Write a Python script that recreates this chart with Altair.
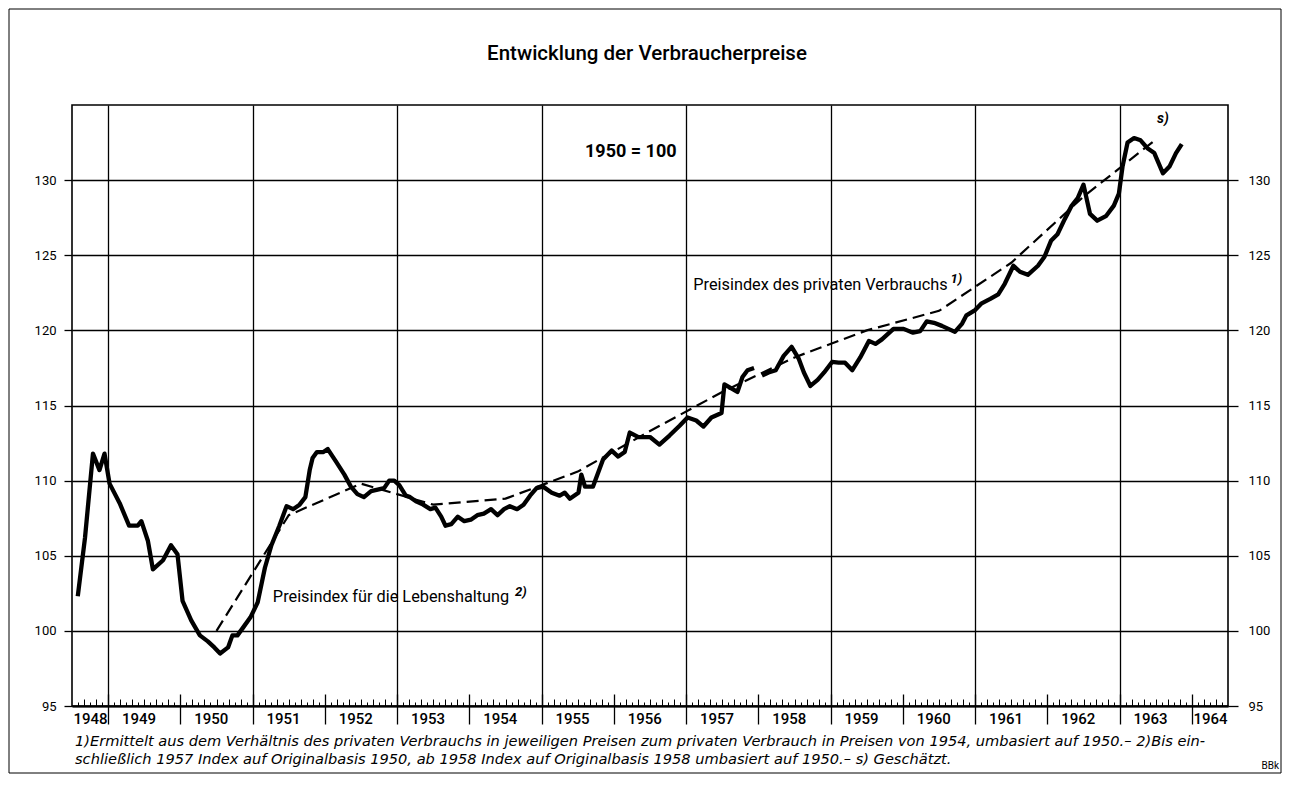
import altair as alt
import pandas as pd

# ---------------- data ----------------
# Preisindex für die Lebenshaltung (monthly, solid) -- segment 1 (to 1957), segment 2 (from 1958)
seg1_t = [1948.58, 1948.68, 1948.79, 1948.88, 1948.95, 1949.02, 1949.16, 1949.29, 1949.41, 1949.46,
          1949.55, 1949.62, 1949.76, 1949.87, 1949.96, 1950.03, 1950.15, 1950.27, 1950.38, 1950.47,
          1950.55, 1950.66, 1950.72, 1950.79, 1950.88, 1950.97, 1951.07, 1951.17, 1951.26, 1951.37,
          1951.47, 1951.56, 1951.65, 1951.73, 1951.79, 1951.83, 1951.89, 1951.98, 1952.04, 1952.15,
          1952.27, 1952.36, 1952.45, 1952.54, 1952.64, 1952.73, 1952.82, 1952.89, 1952.96, 1953.03,
          1953.12, 1953.18, 1953.27, 1953.36, 1953.46, 1953.53, 1953.61, 1953.67, 1953.75, 1953.84,
          1953.93, 1954.02, 1954.11, 1954.20, 1954.30, 1954.39, 1954.48, 1954.56, 1954.66, 1954.75,
          1954.84, 1954.93, 1955.02, 1955.14, 1955.25, 1955.32, 1955.39, 1955.51, 1955.55, 1955.60,
          1955.71, 1955.85, 1955.97, 1956.06, 1956.15, 1956.22, 1956.34, 1956.50, 1956.63, 1956.77,
          1956.91, 1957.02, 1957.14, 1957.24, 1957.35, 1957.49, 1957.53, 1957.62, 1957.71, 1957.78,
          1957.85, 1957.94]
seg1_v = [102.3, 106.2, 111.8, 110.7, 111.8, 109.8, 108.5, 107.0, 107.0, 107.3,
          106.0, 104.1, 104.7, 105.7, 105.1, 102.0, 100.7, 99.7, 99.3, 98.9,
          98.5, 98.9, 99.7, 99.7, 100.3, 100.9, 101.9, 104.2, 105.7, 107.0,
          108.3, 108.1, 108.4, 108.9, 110.7, 111.5, 111.9, 111.9, 112.1, 111.3,
          110.4, 109.6, 109.1, 108.9, 109.3, 109.4, 109.5, 110.0, 110.0, 109.7,
          109.0, 108.9, 108.6, 108.4, 108.1, 108.2, 107.6, 107.0, 107.1, 107.6,
          107.3, 107.4, 107.7, 107.8, 108.1, 107.7, 108.1, 108.3, 108.1, 108.4,
          109.0, 109.5, 109.6, 109.2, 109.0, 109.2, 108.8, 109.2, 110.4, 109.6,
          109.6, 111.4, 112.0, 111.6, 111.9, 113.2, 112.9, 112.9, 112.4, 113.0,
          113.65, 114.2, 114.0, 113.6, 114.2, 114.5, 116.4, 116.15, 115.9, 116.9,
          117.35, 117.5]
seg2_t = [1958.05, 1958.14, 1958.24, 1958.35, 1958.46, 1958.56, 1958.63, 1958.72, 1958.82, 1958.91,
          1959.02, 1959.11, 1959.20, 1959.30, 1959.41, 1959.53, 1959.62, 1959.71, 1959.87, 1960.01,
          1960.14, 1960.24, 1960.33, 1960.43, 1960.54, 1960.63, 1960.72, 1960.82, 1960.88, 1961.00,
          1961.09, 1961.21, 1961.32, 1961.41, 1961.53, 1961.62, 1961.73, 1961.87, 1961.96, 1962.05,
          1962.14, 1962.24, 1962.33, 1962.42, 1962.50, 1962.59, 1962.69, 1962.81, 1962.92, 1962.99,
          1963.04, 1963.11, 1963.20, 1963.29, 1963.39, 1963.48, 1963.60, 1963.69, 1963.78, 1963.86]
seg2_v = [117.0, 117.2, 117.35, 118.3, 118.9, 118.1, 117.2, 116.3, 116.7, 117.2,
          117.9, 117.85, 117.85, 117.35, 118.2, 119.3, 119.1, 119.4, 120.1, 120.1,
          119.85, 119.95, 120.6, 120.5, 120.3, 120.1, 119.9, 120.45, 121.0, 121.35,
          121.8, 122.1, 122.4, 123.1, 124.3, 123.9, 123.7, 124.3, 124.9, 125.96,
          126.4, 127.4, 128.25, 128.8, 129.7, 127.75, 127.3, 127.6, 128.3, 129.1,
          130.9, 132.5, 132.8, 132.65, 132.1, 131.8, 130.45, 130.9, 131.8, 132.4]

# Preisindex des privaten Verbrauchs (annual, dashed)
dash_t = [1950.5, 1951.5, 1952.5, 1953.5, 1954.5, 1955.5, 1956.5,
          1957.5, 1958.5, 1959.5, 1960.5, 1961.5, 1962.5, 1963.5]
dash_v = [100.0, 107.7, 109.8, 108.4, 108.8, 110.6, 113.3,
          115.9, 118.2, 120.0, 121.3, 124.5, 128.9, 132.7]

y_ticks = [95, 100, 105, 110, 115, 120, 125, 130]
grid_years = [1949, 1951, 1953, 1955, 1957, 1959, 1961, 1963]
sep_years = list(range(1949, 1965))
year_labels = ["1948", "1949", "1950", "1951", "1952", "1953", "1954", "1955", "1956",
               "1957", "1958", "1959", "1960", "1961", "1962", "1963", "1964"]
year_label_pos = [1948.75] + [int(y) + 0.42 for y in year_labels[1:-1]] + [1964.25]

title_text = "Entwicklung der Verbraucherpreise"
base_text = "1950 = 100"
label_cpi = "Preisindex für die Lebenshaltung"
label_pcp = "Preisindex des privaten Verbrauchs"
foot1 = ("1)Ermittelt aus dem Verhältnis des privaten Verbrauchs in jeweiligen Preisen zum privaten "
         "Verbrauch in Preisen von 1954, umbasiert auf 1950.– 2)Bis ein-")
foot2 = ("schließlich 1957 Index auf Originalbasis 1950, ab 1958 Index auf Originalbasis 1958 "
         "umbasiert auf 1950.– s) Geschätzt.")

# ---------------- chart ----------------
W, H = 1156, 601
FONT = "Roboto"
xs = alt.Scale(domain=[1948.5, 1964.5], nice=False, zero=False)
ys = alt.Scale(domain=[95, 135], nice=False, zero=False)

sdf = pd.DataFrame({
    "t": seg1_t + seg2_t,
    "v": seg1_v + seg2_v,
    "seg": ["a"] * len(seg1_t) + ["b"] * len(seg2_t),
})
ddf = pd.DataFrame({"t": dash_t, "v": dash_v})

month_pos = [1948.5 + k / 12 for k in range(1, 192)]
month_tall = [m for k, m in enumerate(month_pos) if k % 2 == 1]
month_short = [m for k, m in enumerate(month_pos) if k % 2 == 0]

def noaxis_y():
    return alt.Y("v:Q", scale=ys, axis=None)

# solid line + year labels + left axis with horizontal grid
solid = alt.Chart(sdf).mark_line(color="black", strokeWidth=4.3, strokeJoin="round").encode(
    x=alt.X("t:Q", scale=xs, axis=alt.Axis(
        orient="bottom", values=year_label_pos, labelExpr="'' + floor(datum.value)",
        ticks=False, domain=True, domainColor="black", domainWidth=2, grid=False,
        labelFont=FONT, labelFontSize=15, labelFontWeight=500, labelColor="black",
        labelPadding=5, labelFlush=False, labelOverlap=False, title=None)),
    y=alt.Y("v:Q", scale=ys, axis=alt.Axis(
        orient="left", values=y_ticks, grid=True, gridColor="black", gridWidth=1.3,
        gridOpacity=1, ticks=True, tickColor="black", tickSize=8, tickWidth=1.3,
        domain=False, labelFont=FONT, labelFontSize=13, labelColor="black",
        labelPadding=8, title=None)),
    detail="seg:N",
)

# dashed line + vertical grid at odd years + right axis
dashed = alt.Chart(ddf).mark_line(color="black", strokeWidth=2.2, strokeDash=[12, 6]).encode(
    x=alt.X("t:Q", scale=xs, axis=alt.Axis(
        orient="bottom", values=grid_years, grid=True, gridColor="black", gridWidth=1.3,
        gridOpacity=1, ticks=False, labels=False, domain=False, title=None)),
    y=alt.Y("v:Q", scale=ys, axis=alt.Axis(
        orient="right", values=y_ticks, grid=False, ticks=True, tickColor="black",
        tickSize=10, tickWidth=1.3, domain=False, labelFont=FONT, labelFontSize=13,
        labelColor="black", labelPadding=10, title=None)),
)

# year separators below the axis
seps = alt.Chart(ddf).mark_point(opacity=0).encode(
    x=alt.X("t:Q", scale=xs, axis=alt.Axis(
        orient="bottom", values=sep_years, offset=-12, tickSize=30, tickWidth=1.3,
        tickColor="black", labels=False, domain=False, grid=False, title=None)),
    y=noaxis_y(),
)
mt = alt.Chart(ddf).mark_point(opacity=0).encode(
    x=alt.X("t:Q", scale=xs, axis=alt.Axis(
        orient="bottom", values=month_tall, offset=-7, tickSize=7, tickWidth=1,
        tickColor="black", labels=False, domain=False, grid=False, title=None)),
    y=noaxis_y(),
)
ms = alt.Chart(ddf).mark_point(opacity=0).encode(
    x=alt.X("t:Q", scale=xs, axis=alt.Axis(
        orient="bottom", values=month_short, offset=-4, tickSize=4, tickWidth=1,
        tickColor="black", labels=False, domain=False, grid=False, title=None)),
    y=noaxis_y(),
)

# annotations in data coordinates
ann_df = pd.DataFrame({
    "t": [1951.28, 1957.10],
    "v": [102.27, 123.0],
    "txt": [label_cpi, label_pcp],
})
ann = alt.Chart(ann_df).mark_text(font=FONT, fontSize=16.3, align="left", baseline="middle",
                                  color="black").encode(
    x=alt.X("t:Q", scale=xs, axis=None), y=noaxis_y(), text="txt:N")

sup_df = pd.DataFrame({"t": [1954.63, 1960.66], "v": [102.6, 123.4], "txt": ["2)", "1)"]})
sup = alt.Chart(sup_df).mark_text(font=FONT, fontSize=13, fontStyle="italic", fontWeight="bold",
                                  align="left", baseline="middle", color="black").encode(
    x=alt.X("t:Q", scale=xs, axis=None), y=noaxis_y(), text="txt:N")

base_df = pd.DataFrame({"t": [1955.6], "v": [131.87], "txt": [base_text]})
base = alt.Chart(base_df).mark_text(font=FONT, fontSize=18, fontWeight="bold", align="left",
                                    baseline="middle", color="black").encode(
    x=alt.X("t:Q", scale=xs, axis=None), y=noaxis_y(), text="txt:N")

s_df = pd.DataFrame({"t": [1963.6], "v": [134.1], "txt": ["s)"]})
s_lab = alt.Chart(s_df).mark_text(font=FONT, fontSize=14, fontStyle="italic", fontWeight="bold",
                                  align="center", baseline="middle", color="black").encode(
    x=alt.X("t:Q", scale=xs, axis=None), y=noaxis_y(), text="txt:N")

# page texts (title, footnotes, source) positioned in pixels
one = pd.DataFrame({"a": [0]})
title = alt.Chart(one).mark_text(text=title_text, font=FONT, fontSize=20.5, fontWeight=500,
                                 align="center", baseline="middle", color="black").encode(
    x=alt.value(575), y=alt.value(-51))
f1 = alt.Chart(one).mark_text(text=foot1, font="DejaVu Sans", fontSize=14.6, fontStyle="italic",
                              align="left", baseline="middle", color="black").encode(
    x=alt.value(3), y=alt.value(637))
f2 = alt.Chart(one).mark_text(text=foot2, font="DejaVu Sans", fontSize=14.6, fontStyle="italic",
                              align="left", baseline="middle", color="black").encode(
    x=alt.value(3), y=alt.value(655))
bbk = alt.Chart(one).mark_text(text="BBk", font=FONT, fontSize=10, align="right",
                               baseline="middle", color="black").encode(
    x=alt.value(1207), y=alt.value(661))
frame = alt.Chart(one).mark_rect(filled=False, stroke="black", strokeWidth=1).encode(
    x=alt.value(-63), x2=alt.value(1209), y=alt.value(-96), y2=alt.value(668))

chart = alt.layer(
    dashed, seps, mt, ms, solid, ann, sup, base, s_lab, title, f1, f2, bbk, frame
).resolve_axis(x="independent", y="independent").properties(
    width=W, height=H,
    autosize=alt.AutoSizeParams(type="none"),
    padding={"left": 64, "top": 97, "right": 55, "bottom": 70},
).configure_view(stroke="black", strokeWidth=1.6)

chart.save("out.html", embed_options={"renderer": "svg", "actions": False})
